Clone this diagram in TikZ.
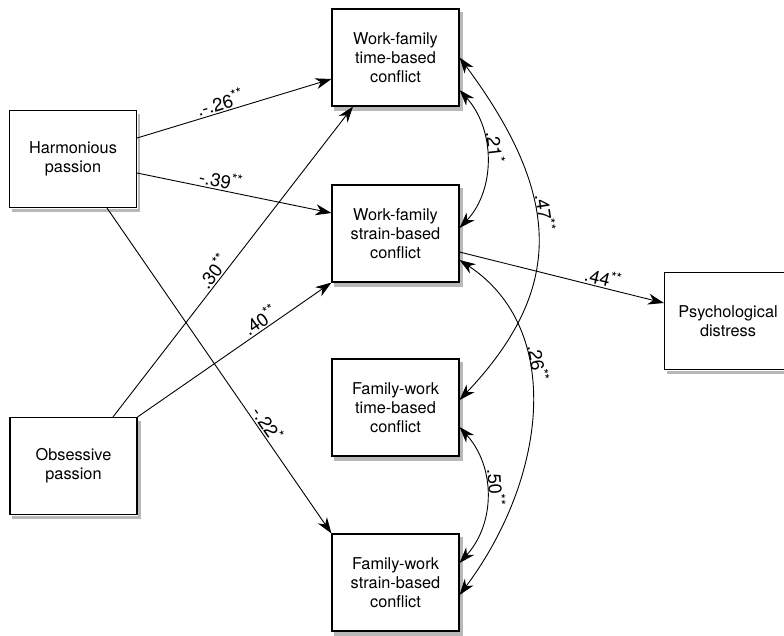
\documentclass[tikz,border=0pt]{standalone}
\usepackage{fontspec}
\setmainfont{TeX Gyre Heros}
\usetikzlibrary{arrows.meta,calc}
\newcommand\sig[1]{\raisebox{6pt}{\fontsize{14}{14}\selectfont #1}}
\newcommand\boxshadow[1]{%
  \fill[shadowgray] ($(#1.south west)+(3,0.6)$) rectangle ($(#1.south east)+(3,4)$);
  \fill[shadowgray] ($(#1.north east)+(0.6,4)$) rectangle ($(#1.south east)+(3,0.6)$);}
\begin{document}
\begin{tikzpicture}[x=1pt,y=-1pt,
  shadowgray/.style={fill=black!28},
  box/.style={draw, line width=1.1pt, fill=white, minimum width=127pt, minimum height=97pt,
    align=center, inner sep=2pt, font=\fontsize{16.3}{19}\selectfont},
  arr/.style={line width=0.9pt, -{Stealth[length=16pt,width=11pt,inset=5pt]}},
  barr/.style={line width=0.9pt, {Stealth[length=16pt,width=11pt,inset=5pt]}-{Stealth[length=16pt,width=11pt,inset=5pt]}},
  lab/.style={font=\fontsize{18.5}{20}\selectfont, sloped, above, inner sep=1.5pt}
]
\useasboundingbox (0,0) rectangle (784,635);

\node[box] (hp)  at (73,159)    {Harmonious\\passion};
\node[box] (op)  at (73.5,466)  {Obsessive\\passion};
\node[box] (wft) at (395.5,57.5)  {Work-family\\time-based\\conflict};
\node[box] (wfs) at (395.5,233.5) {Work-family\\strain-based\\conflict};
\node[box] (fwt) at (395.5,407.5) {Family-work\\time-based\\conflict};
\node[box] (fws) at (395.5,582.5) {Family-work\\strain-based\\conflict};
\node[box] (pd)  at (728,321)   {Psychological\\distress};

\boxshadow{hp}\boxshadow{op}\boxshadow{wft}\boxshadow{wfs}\boxshadow{fwt}\boxshadow{fws}\boxshadow{pd}

% direct paths
\draw[arr] ($(hp.east)+(0,-21)$) -- node[lab,pos=0.44]{.-.26\sig{**}} ($(wft.west)+(0,21.5)$);
\draw[arr] ($(hp.east)+(0,14)$) -- node[lab,pos=0.42]{-.39\sig{**}} ($(wfs.west)+(0,-20.5)$);
\draw[arr] ($(hp.south)+(34,0)$) -- node[lab,pos=0.68]{-.22\sig{*}} (fws.north west);
\draw[arr] ($(op.north)+(39.5,0)$) -- node[lab,pos=0.45]{.30\sig{**}} ($(wft.south)+(-42.5,0)$);
\draw[arr] (op.north east) -- node[lab,pos=0.66]{.40\sig{**}} (wfs.south west);
\draw[arr] ($(wfs.east)+(0,18.5)$) -- node[lab,pos=0.69]{.44\sig{**}} ($(pd.west)+(0,-18)$);

% correlations
\draw[barr] ($(wft.east)+(0,32.5)$) .. controls +(36,40) and +(36,-38) .. node[lab,pos=0.42]{.21\sig{*}} ($(wfs.east)+(0,-5.5)$);
\draw[barr] (wft.east) .. controls +(104,140) and +(104,-110) .. node[lab,pos=0.42]{.47\sig{**}} ($(fwt.east)+(0,-7.5)$);
\draw[barr] ($(wfs.east)+(0,26.5)$) .. controls +(106,70) and +(86,-115) .. node[lab,pos=0.37]{.26\sig{**}} ($(fws.east)+(0,12.5)$);
\draw[barr] ($(fwt.east)+(0,19.5)$) .. controls +(36,40) and +(36,-40) .. node[lab,pos=0.45]{.50\sig{**}} ($(fws.east)+(0,-19.5)$);
\end{tikzpicture}
\end{document}
